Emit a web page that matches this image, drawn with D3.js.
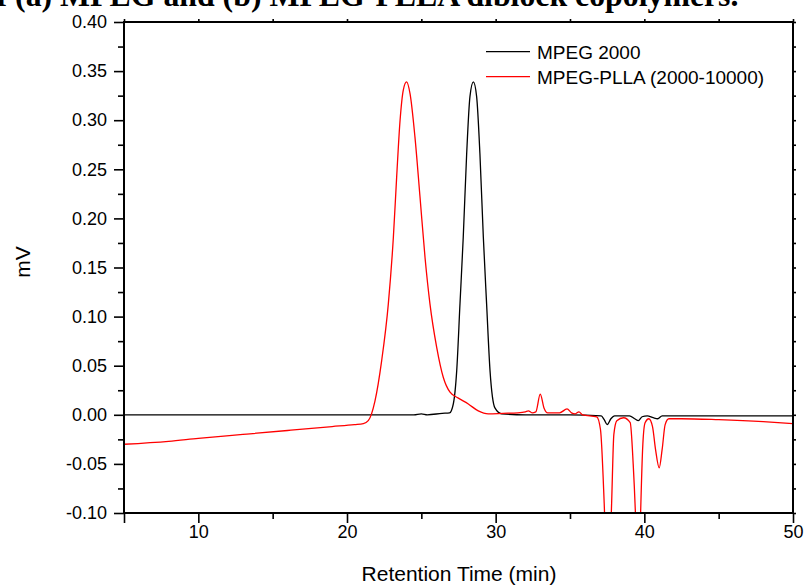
<!DOCTYPE html>
<html>
<head>
<meta charset="utf-8">
<script src="https://d3js.org/d3.v7.min.js"></script>
<style>
  body { margin: 0; background: #fff; }
  svg { display: block; }
</style>
</head>
<body>
<svg width="804" height="587"></svg>
<script>
// MPEG 2000 (black)
var mpegTime = [5, 20, 24.5, 25.0, 25.4, 26.4, 26.9, 27.15, 27.38, 27.6, 27.82, 28.05, 28.27, 28.5,
  28.72, 28.94, 29.17, 29.39, 29.62, 29.95, 30.4, 32, 35, 37.1, 37.3, 37.5, 37.75, 38.0, 39.0,
  39.35, 39.6, 39.85, 40.2, 40.6, 40.9, 41.2, 41.6, 50];
var mpegSignal = [0, 0, 0, 0.001, 0, 0.0015, 0.002, 0.011, 0.045, 0.113, 0.181, 0.266, 0.324, 0.339,
  0.324, 0.266, 0.181, 0.113, 0.045, 0.007, 0.001, 0, 0, -0.001, -0.005, -0.010, -0.004, -0.001, -0.001,
  -0.004, -0.006, -0.002, -0.001, -0.003, -0.004, -0.001, -0.001, -0.001];

// MPEG-PLLA (2000-10000) (red)
var pllaTime = [5, 8, 10, 13, 16, 19, 20.5, 21.1, 21.43, 21.88, 22.33, 22.78, 23.12, 23.34, 23.57,
  23.79, 24.01, 24.24, 24.57, 24.91, 25.25, 25.58, 26.03, 26.48, 26.93, 27.49, 28.16, 28.83, 29.5,
  30.5, 31.5, 32.0, 32.2, 32.45, 32.7, 33.0, 33.25, 33.5, 34.3, 34.8, 35.1, 35.35, 35.6, 35.85,
  36.8, 37.05, 37.3, 37.55, 37.8, 37.95, 38.15, 38.6, 39.05, 39.25, 39.4, 39.6, 39.75, 39.9, 40.05,
  40.3, 40.55, 40.75, 41.0, 41.2, 41.4, 41.65, 42.5, 45, 48, 50];
var pllaSignal = [-0.030, -0.027, -0.024, -0.020, -0.016, -0.012, -0.010, -0.009, -0.006, 0.014, 0.055, 0.113, 0.181, 0.242, 0.300,
  0.331, 0.339, 0.327, 0.283, 0.222, 0.160, 0.113, 0.069, 0.038, 0.023, 0.017, 0.011, 0.004, 0.001,
  0.0015, 0.002, 0.003, 0.004, 0.002, 0.003, 0.021, 0.007, 0.002, 0.002, 0.006, 0.002, 0.001, 0.003, 0.000,
  -0.002, -0.015, -0.09, -0.2, -0.09, -0.02, -0.006, -0.003, -0.008, -0.05, -0.10, -0.2, -0.10, -0.03, -0.008,
  -0.004, -0.012, -0.035, -0.054, -0.035, -0.010, -0.004, -0.004, -0.005, -0.007, -0.009];

var xMajor = [5, 10, 20, 30, 40, 50];
var xMinor = [15, 25, 35, 45];
var xLabeled = [10, 20, 30, 40, 50];
var yMajor = [-0.10, -0.05, 0.00, 0.05, 0.10, 0.15, 0.20, 0.25, 0.30, 0.35, 0.40];
var yMinor = [-0.075, -0.025, 0.025, 0.075, 0.125, 0.175, 0.225, 0.275, 0.325, 0.375];
var seriesNames = ["MPEG 2000", "MPEG-PLLA (2000-10000)"];
var seriesColors = ["#000000", "#ff0000"];

var svg = d3.select("svg");
var plotLeft = 124, plotRight = 793, plotTop = 22, plotBottom = 513;

var x = d3.scaleLinear().domain([5, 50]).range([plotLeft, plotRight]);
var y = d3.scaleLinear().domain([-0.10, 0.40]).range([plotBottom, plotTop]);

// caption cut off at the top of the picture
svg.append("text")
  .attr("x", -19.4)
  .attr("y", 6)
  .style("font-family", "'Liberation Serif', 'Times New Roman', serif")
  .style("font-weight", "bold")
  .style("font-size", "31.8px")
  .text("of (a) MPEG and (b) MPEG-PLLA diblock copolymers.");

svg.append("clipPath").attr("id", "plot")
  .append("rect")
  .attr("x", plotLeft).attr("y", plotTop)
  .attr("width", plotRight - plotLeft).attr("height", plotBottom - plotTop);

var line = d3.line()
  .x(function(d) { return x(d[0]); })
  .y(function(d) { return y(d[1]); })
  .curve(d3.curveMonotoneX);

var series = [
  d3.zip(mpegTime, mpegSignal),
  d3.zip(pllaTime, pllaSignal)
];

svg.append("g").attr("clip-path", "url(#plot)")
  .selectAll("path")
  .data(series)
  .enter().append("path")
  .attr("d", line)
  .attr("fill", "none")
  .attr("stroke", function(d, i) { return seriesColors[i]; })
  .attr("stroke-width", 1.3);

var font = "'Liberation Sans', Arial, sans-serif";

var styleAxis = function(g, showText) {
  g.select(".domain").remove();
  g.selectAll(".tick line").attr("stroke", "#000").attr("stroke-width", 1.6);
  g.selectAll("text")
    .style("font-family", font)
    .style("font-size", "18px")
    .attr("fill", "#000");
  if (!showText) g.selectAll("text").remove();
};

// bottom
svg.append("g").attr("transform", "translate(0," + plotBottom + ")")
  .call(d3.axisBottom(x).tickValues(xMajor).tickSize(10).tickPadding(2)
    .tickFormat(function(d) { return xLabeled.indexOf(d) >= 0 ? d : ""; }))
  .call(styleAxis, true);
svg.append("g").attr("transform", "translate(0," + plotBottom + ")")
  .call(d3.axisBottom(x).tickValues(xMinor).tickSize(6))
  .call(styleAxis, false);

// left
svg.append("g").attr("transform", "translate(" + plotLeft + ",0)")
  .call(d3.axisLeft(y).tickValues(yMajor).tickSize(10).tickPadding(7)
    .tickFormat(function(d) { return d.toFixed(2); }))
  .call(styleAxis, true);
svg.append("g").attr("transform", "translate(" + plotLeft + ",0)")
  .call(d3.axisLeft(y).tickValues(yMinor).tickSize(6))
  .call(styleAxis, false);

// top and right, short ticks
svg.append("g").attr("transform", "translate(0," + plotTop + ")")
  .call(d3.axisTop(x).tickValues(xMajor.concat(xMinor)).tickSize(3))
  .call(styleAxis, false);
svg.append("g").attr("transform", "translate(" + plotRight + ",0)")
  .call(d3.axisRight(y).tickValues(yMajor.concat(yMinor)).tickSize(3))
  .call(styleAxis, false);

// frame
svg.append("rect")
  .attr("x", plotLeft).attr("y", plotTop)
  .attr("width", plotRight - plotLeft).attr("height", plotBottom - plotTop)
  .attr("fill", "none")
  .attr("stroke", "#000")
  .attr("stroke-width", 2);

// axis titles
svg.append("text")
  .attr("x", 459)
  .attr("y", 581)
  .attr("text-anchor", "middle")
  .style("font-family", font)
  .style("font-size", "21px")
  .text("Retention Time (min)");

svg.append("text")
  .attr("transform", "translate(30,262) rotate(-90)")
  .attr("text-anchor", "middle")
  .style("font-family", font)
  .style("font-size", "21px")
  .text("mV");

// legend
var legend = svg.selectAll("g.legend")
  .data(seriesNames)
  .enter().append("g")
  .attr("class", "legend")
  .attr("transform", function(d, i) { return "translate(486," + (51.7 + i * 25) + ")"; });

legend.append("line")
  .attr("x1", 0).attr("x2", 44)
  .attr("stroke", function(d, i) { return seriesColors[i]; })
  .attr("stroke-width", 1.3);

legend.append("text")
  .attr("x", 51)
  .attr("y", 7.5)
  .style("font-family", font)
  .style("font-size", "19px")
  .text(function(d) { return d; });
</script>
</body>
</html>
